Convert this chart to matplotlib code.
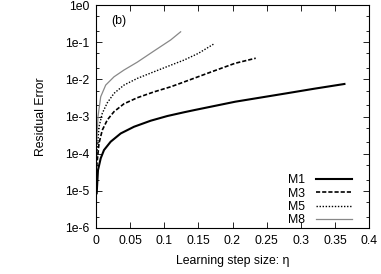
import matplotlib
matplotlib.use("Agg")
import matplotlib.pyplot as plt
from matplotlib.ticker import LogLocator, FixedLocator, FixedFormatter, NullFormatter

plt.rcParams["font.family"] = ["Liberation Sans", "DejaVu Sans"]
plt.rcParams["font.size"] = 8.8

# values
eta_m1 = [0.001, 0.0029, 0.0069, 0.0117, 0.0215, 0.0362, 0.0557, 0.0801, 0.1045,
          0.129, 0.145, 0.204, 0.279, 0.32, 0.364]
err_m1 = [8.6e-6, 3.6e-5, 7.5e-5, 1.25e-4, 2.1e-4, 3.5e-4, 5.3e-4, 7.7e-4, 1.03e-3,
          1.3e-3, 1.5e-3, 2.5e-3, 4.2e-3, 5.6e-3, 7.5e-3]

eta_m3 = [0.001, 0.0044, 0.0092, 0.0166, 0.0264, 0.041, 0.0605, 0.085, 0.1095,
          0.129, 0.1695, 0.2037, 0.234]
err_m3 = [4.5e-5, 1.9e-4, 4.3e-4, 8.1e-4, 1.35e-3, 2.2e-3, 3.2e-3, 4.6e-3, 6.3e-3,
          8.5e-3, 1.6e-2, 2.7e-2, 3.7e-2]

eta_m5 = [0.001, 0.0044, 0.0092, 0.0166, 0.0264, 0.041, 0.0605, 0.085, 0.1095,
          0.129, 0.15, 0.172]
err_m5 = [8.3e-5, 5.3e-4, 1.22e-3, 2.35e-3, 4.2e-3, 7.0e-3, 1.06e-2, 1.6e-2, 2.4e-2,
          3.3e-2, 5.0e-2, 8.8e-2]

eta_m8 = [0.001, 0.0029, 0.0069, 0.0142, 0.0264, 0.041, 0.0605, 0.085, 0.1095, 0.124]
err_m8 = [1.9e-4, 9.9e-4, 3.4e-3, 7.0e-3, 1.17e-2, 1.78e-2, 2.9e-2, 5.8e-2, 0.115, 0.19]

x_ticks = [0, 0.05, 0.1, 0.15, 0.2, 0.25, 0.3, 0.35, 0.4]
x_labels = ["0", "0.05", "0.1", "0.15", "0.2", "0.25", "0.3", "0.35", "0.4"]
y_ticks = [1e-6, 1e-5, 1e-4, 1e-3, 1e-2, 1e-1, 1e0]
y_labels = ["1e-6", "1e-5", "1e-4", "1e-3", "1e-2", "1e-1", "1e0"]

fig = plt.figure(figsize=(3.81, 2.74), dpi=100)
ax = fig.add_axes([96 / 381, 1 - 228 / 274, 273 / 381, 223 / 274])

ax.plot(eta_m1, err_m1, color="black", lw=1.5, label="M1")
ax.plot(eta_m3, err_m3, color="black", lw=1.2, ls=(0, (2.5, 1.2)), label="M3")
ax.plot(eta_m5, err_m5, color="black", lw=1.0, ls=(0, (1, 1.2)), label="M5")
ax.plot(eta_m8, err_m8, color="#888888", lw=0.9, label="M8")

ax.set_yscale("log")
ax.set_xlim(0, 0.4)
ax.set_ylim(1e-6, 1e0)
ax.xaxis.set_major_locator(FixedLocator(x_ticks))
ax.xaxis.set_major_formatter(FixedFormatter(x_labels))
ax.yaxis.set_major_locator(FixedLocator(y_ticks))
ax.yaxis.set_major_formatter(FixedFormatter(y_labels))
ax.yaxis.set_minor_locator(LogLocator(base=10, subs=[2, 5]))
ax.yaxis.set_minor_formatter(NullFormatter())

ax.tick_params(which="both", direction="in", top=True, right=True, width=0.6)
ax.tick_params(which="major", length=4, pad=5)
ax.tick_params(which="minor", length=2)
for s in ax.spines.values():
    s.set_linewidth(0.8)

ax.set_xlabel("Learning step size: η", labelpad=6)
ax.set_ylabel("Residual Error", labelpad=13)
ax.text(0.055, 0.93, "(b)", transform=ax.transAxes, va="center", ha="left")

ax.legend(loc="lower right", bbox_to_anchor=(0.975, -0.035), frameon=False,
          markerfirst=False, handlelength=3.0, handletextpad=0.9,
          labelspacing=0.1, borderpad=0.3)

fig.savefig("out.png", dpi=100)
